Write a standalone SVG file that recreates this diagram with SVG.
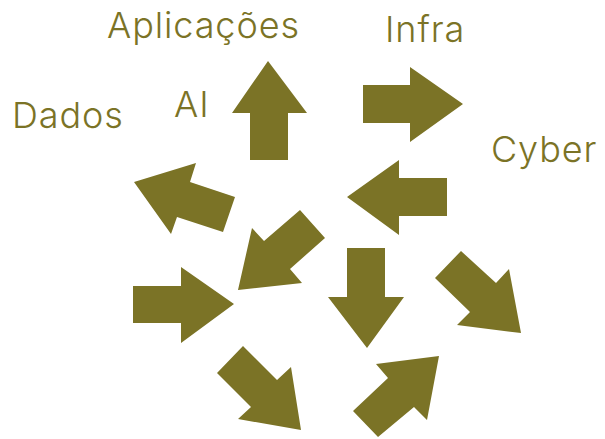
<svg xmlns="http://www.w3.org/2000/svg" width="605" height="439" viewBox="0 0 605 439">
<style>
.lbl{font-family:Inter,"Noto Sans","Liberation Sans",sans-serif;font-size:36px;font-weight:350;letter-spacing:0.9px;fill:#7b7326;}
.arr{fill:#7b7326;stroke:none;}
</style>
<rect width="605" height="439" fill="#ffffff"/>
<g id="label-aplicacoes"><text class="lbl" x="107" y="38">Aplicações</text></g>
<g id="label-infra"><text class="lbl" x="385" y="42">Infra</text></g>
<g id="label-dados"><text class="lbl" x="12" y="128">Dados</text></g>
<g id="label-ai"><text class="lbl" x="174" y="117">AI</text></g>
<g id="label-cyber"><text class="lbl" x="491" y="162">Cyber</text></g>
<g id="arrows">
<g id="arrow-up"><polygon class="arr" points="250,160 250,113 232,113 268,61 307,113 288,113 288,160"/></g>
<g id="arrow-right-top"><polygon class="arr" points="363,85 410,85 410,67 463,104 410,142 410,123 363,123"/></g>
<g id="arrow-left"><polygon class="arr" points="447,178 399,178 399,160 347,197 399,235 399,216 447,216"/></g>
<g id="arrow-up-left"><polygon class="arr" points="235,197 190,182 196,163 134,182 171,234 177,217 223,232"/></g>
<g id="arrow-down-left"><polygon class="arr" points="300,210 264,241 252,228 238,290 302,283 290,269 325,238"/></g>
<g id="arrow-right-bottom"><polygon class="arr" points="133,286 181,286 181,267 234,304 181,343 181,323 133,323"/></g>
<g id="arrow-down"><polygon class="arr" points="347,248 385,248 385,297 404,297 367,348 328,297 347,297"/></g>
<g id="arrow-down-right-top"><polygon class="arr" points="461,251 496,283 509,269 521,333 457,325 470,312 435,278"/></g>
<g id="arrow-up-right"><polygon class="arr" points="353,411 388,378 376,364 439,356 427,420 414,407 378,437"/></g>
<g id="arrow-down-right-bottom"><polygon class="arr" points="243,346 277,380 291,367 301,430 238,419 251,407 217,373"/></g>
</g>
</svg>
